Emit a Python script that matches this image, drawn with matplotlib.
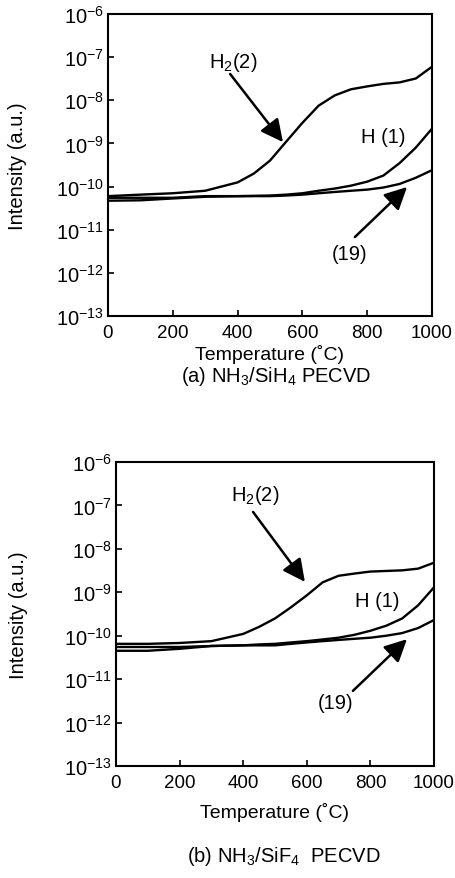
import matplotlib
matplotlib.use("Agg")
import matplotlib.pyplot as plt
import numpy as np
from matplotlib.ticker import FixedLocator, FixedFormatter

plt.rcParams['font.family'] = ['Liberation Sans', 'DejaVu Sans']
plt.rcParams['mathtext.fontset'] = 'custom'
plt.rcParams['mathtext.rm'] = 'Liberation Sans'
plt.rcParams['mathtext.default'] = 'regular'

# ---- data ----
temps_a = [0, 100, 200, 300, 400, 450, 500, 550, 600, 650, 700, 750, 800, 850, 900, 950, 1000]
h2_a = [6e-11, 6.5e-11, 7e-11, 8e-11, 1.25e-10, 2e-10, 4e-10, 1.1e-9, 3e-9, 7.5e-9,
        1.3e-8, 1.8e-8, 2.1e-8, 2.4e-8, 2.6e-8, 3.2e-8, 6e-8]
h_a = [5.5e-11, 5.5e-11, 5.5e-11, 6e-11, 6e-11, 6.1e-11, 6.2e-11, 6.5e-11, 7e-11, 8e-11,
       9e-11, 1.05e-10, 1.3e-10, 1.8e-10, 3.5e-10, 8e-10, 2.2e-9]
m19_a = [4.7e-11, 4.8e-11, 5.3e-11, 5.8e-11, 6e-11, 6e-11, 6e-11, 6.2e-11, 6.5e-11, 7e-11,
         7.5e-11, 8e-11, 8.5e-11, 9.5e-11, 1.15e-10, 1.6e-10, 2.4e-10]

temps_b = [0, 100, 200, 300, 400, 450, 500, 550, 600, 650, 700, 750, 800, 850, 900, 950, 1000]
h2_b = [6.5e-11, 6.5e-11, 6.8e-11, 7.5e-11, 1.1e-10, 1.6e-10, 2.5e-10, 4.5e-10, 8.5e-10, 1.7e-9,
        2.4e-9, 2.7e-9, 3e-9, 3.1e-9, 3.2e-9, 3.5e-9, 4.8e-9]
h_b = [5.5e-11, 5.5e-11, 5.5e-11, 5.8e-11, 6e-11, 6.3e-11, 6.5e-11, 7e-11, 7.5e-11, 8.2e-11,
       9e-11, 1.05e-10, 1.3e-10, 1.7e-10, 2.5e-10, 5e-10, 1.3e-9]
m19_b = [4.5e-11, 4.5e-11, 5e-11, 5.8e-11, 6e-11, 6e-11, 6e-11, 6.5e-11, 7e-11, 7.5e-11,
         8e-11, 8.5e-11, 9e-11, 1e-10, 1.15e-10, 1.5e-10, 2.3e-10]

xticks = [0, 200, 400, 600, 800, 1000]
ytick_exps = [-13, -12, -11, -10, -9, -8, -7, -6]
ytick_labels = [r'$10^{%d}$' % e for e in ytick_exps]
captions = [r'(a) NH$_3$/SiH$_4$ PECVD', r'(b) NH$_3$/SiF$_4$  PECVD']

FS = 14.5

fig = plt.figure(figsize=(4.56, 8.79), dpi=100)
ax_a = fig.add_axes([108/456, 1-317/879, 324/456, 302/879])
ax_b = fig.add_axes([116/456, 1-767/879, 318/456, 304/879])

panels = [
    (ax_a, temps_a, h2_a, h_a, m19_a,
     dict(h2_lab=(386, -7.09), h2_tail=(377, -7.39), h2_head=(540, -8.97),
          h_lab=(849, -8.85), m_tail=(762, -11.17), m_head=(923, -10.01), m_lab=(747, -11.56),
          ylab_x=(18-108)/324, xlab_y=(317-355)/302)),
    (ax_b, temps_b, h2_b, h_b, m19_b,
     dict(h2_lab=(437, -6.74), h2_tail=(431, -7.15), h2_head=(594, -8.76),
          h_lab=(821, -9.2), m_tail=(745, -11.27), m_head=(915, -10.08), m_lab=(689, -11.53),
          ylab_x=(18-116)/318, xlab_y=(767-813)/304)),
]

for ax, t, h2, h, m19, ann in panels:
    for ys in (m19, h, h2):
        ax.plot(t, ys, color='black', lw=1.7)
    ax.set_yscale('log')
    ax.set_xlim(0, 1000)
    ax.set_ylim(1e-13, 1e-6)
    ax.yaxis.set_major_locator(FixedLocator([10.0**e for e in ytick_exps]))
    ax.yaxis.set_major_formatter(FixedFormatter(ytick_labels))
    ax.yaxis.set_minor_locator(FixedLocator([]))
    ax.set_xticks(xticks)
    ax.set_xticklabels([str(v) for v in xticks])
    ax.tick_params(direction='in', length=4, width=1.2)
    ax.tick_params(axis='y', pad=3, labelsize=FS)
    ax.tick_params(axis='x', pad=6, labelsize=13.5)
    for s in ax.spines.values():
        s.set_linewidth(1.5)
    ax.set_xlabel('Temperature (˚C)', fontsize=14, va='center')
    ax.set_ylabel('Intensity (a.u.)', fontsize=FS, va='center')
    ax.yaxis.set_label_coords(ann['ylab_x'], 0.5)
    ax.xaxis.set_label_coords(0.5, ann['xlab_y'])
    ap = dict(arrowstyle='-|>', mutation_scale=34, lw=1.8, color='black',
              shrinkA=0, shrinkB=0)
    ax.annotate('', xy=(ann['h2_head'][0], 10**ann['h2_head'][1]),
                xytext=(ann['h2_tail'][0], 10**ann['h2_tail'][1]), arrowprops=ap)
    ax.annotate('', xy=(ann['m_head'][0], 10**ann['m_head'][1]),
                xytext=(ann['m_tail'][0], 10**ann['m_tail'][1]), arrowprops=ap)
    ax.text(ann['h2_lab'][0], 10**ann['h2_lab'][1], r'H$_2$(2)', fontsize=FS,
            ha='center', va='center')
    ax.text(ann['h_lab'][0], 10**ann['h_lab'][1], 'H (1)', fontsize=FS,
            ha='center', va='center')
    ax.text(ann['m_lab'][0], 10**ann['m_lab'][1], '(19)', fontsize=FS,
            ha='center', va='center')

fig.text(276/456, 1-376/879, captions[0], fontsize=FS, ha='center', va='center')
fig.text(284/456, 1-857/879, captions[1], fontsize=FS, ha='center', va='center')

fig.savefig('out.png', dpi=100)
